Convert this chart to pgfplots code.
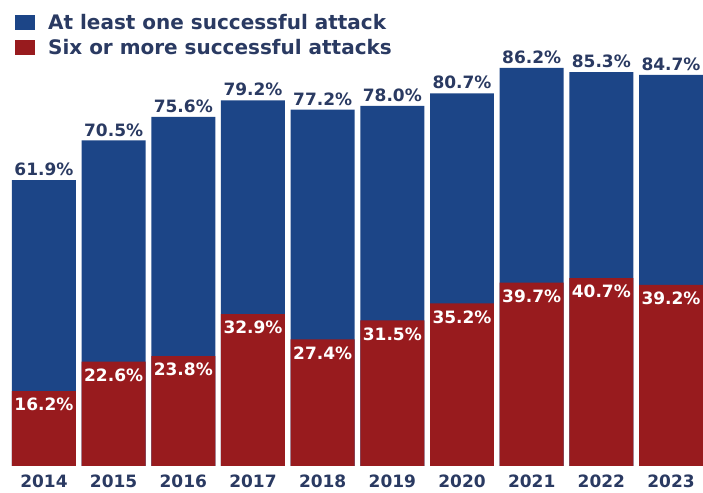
\documentclass[border=0pt]{standalone}
\usepackage{fontspec}
\setmainfont{DejaVu Sans}
\usepackage{pgfplots}
\pgfplotsset{compat=1.18}
\definecolor{barblue}{RGB}{28,69,135}
\definecolor{barred}{RGB}{152,27,30}
\definecolor{navy}{RGB}{42,58,98}
\begin{document}
\begin{tikzpicture}
\begin{axis}[
  scale only axis, width=703pt, height=466pt,
  xmin=-0.631, xmax=9.455, ymin=0, ymax=100.9,
  ybar, bar width=64pt, bar shift=0pt,
  axis line style={draw=none}, major tick length=0pt,
  ytick=\empty,
  xtick={0,...,9},
  xticklabels={2014,2015,2016,2017,2018,2019,2020,2021,2022,2023},
  xticklabel style={font=\fontsize{17}{20}\selectfont\bfseries, text=navy, inner sep=0pt, anchor=north, yshift=-9pt},
  /pgf/number format/assume math mode=true,
  clip=false,
  legend style={at={(axis description cs:0.0213,0.975)}, anchor=north west, draw=none, fill=none, inner sep=0pt,
    font=\fontsize{20}{23}\selectfont\bfseries, text=navy, row sep=5pt,
    cells={anchor=west}, /tikz/every odd column/.style={column sep=11pt}},
]
\addplot[fill=barblue, draw=none, bar shift=0pt,
  legend image code/.code={\fill[barblue] (0pt,-7.5pt) rectangle (20pt,7.5pt);},
  nodes near coords={\pgfmathprintnumber[fixed,fixed zerofill,precision=1]{\pgfplotspointmeta}\%},
  nodes near coords style={anchor=south, inner sep=0pt, yshift=4pt, text=navy, font=\fontsize{17}{20}\selectfont\bfseries}]
  coordinates {(0,61.9) (1,70.5) (2,75.6) (3,79.2) (4,77.2) (5,78.0) (6,80.7) (7,86.2) (8,85.3) (9,84.7)};
\addlegendentry{At least one successful attack}
\addplot[fill=barred, draw=none, bar shift=0pt,
  legend image code/.code={\fill[barred] (0pt,-7.5pt) rectangle (20pt,7.5pt);},
  nodes near coords={\pgfmathprintnumber[fixed,fixed zerofill,precision=1]{\pgfplotspointmeta}\%},
  nodes near coords style={anchor=north, inner sep=0pt, yshift=-7pt, text=white, font=\fontsize{17}{20}\selectfont\bfseries}]
  coordinates {(0,16.2) (1,22.6) (2,23.8) (3,32.9) (4,27.4) (5,31.5) (6,35.2) (7,39.7) (8,40.7) (9,39.2)};
\addlegendentry{Six or more successful attacks}
\path (rel axis cs:0,0) ++(0,-27pt) coordinate (bb);
\end{axis}
\path (bb);
\end{tikzpicture}
\end{document}
